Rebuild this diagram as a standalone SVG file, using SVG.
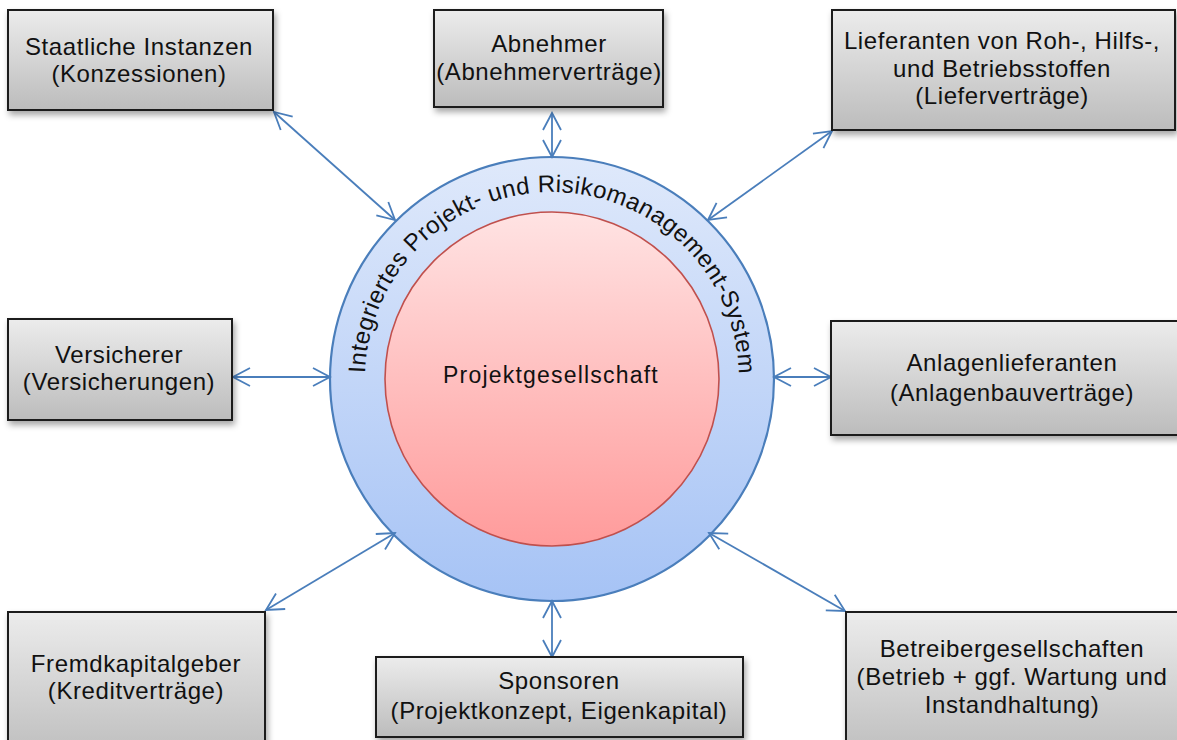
<svg xmlns="http://www.w3.org/2000/svg" width="1177" height="740" viewBox="0 0 1177 740">
<style>
.box{fill:url(#gBox);stroke:#1a1a1a;stroke-width:2;filter:url(#sh)}
.t{font-family:"Liberation Sans",Arial,sans-serif;font-size:24px;fill:#111;text-anchor:middle;letter-spacing:0.6px}
.a{font-family:"Liberation Sans",Arial,sans-serif;font-size:24px;fill:#111;letter-spacing:0.42px}
.c{fill:none;stroke:#4a7ebb;stroke-width:1.8;marker-start:url(#ah);marker-end:url(#ah)}
</style>
<defs>
<linearGradient id="gBox" x1="0" y1="0" x2="0" y2="1"><stop offset="0" stop-color="#ececec"/><stop offset="1" stop-color="#bcbcbc"/></linearGradient>
<linearGradient id="gOut" x1="0" y1="0" x2="0" y2="1"><stop offset="0" stop-color="#dfe9fb"/><stop offset="1" stop-color="#a6c3f5"/></linearGradient>
<linearGradient id="gIn" x1="0" y1="0" x2="0" y2="1"><stop offset="0" stop-color="#ffe3e3"/><stop offset="1" stop-color="#ff9b9b"/></linearGradient>
<filter id="sh" x="-10%" y="-10%" width="130%" height="140%"><feDropShadow dx="2" dy="4" stdDeviation="3" flood-color="#000" flood-opacity="0.35"/></filter>
<marker id="ah" markerWidth="20" markerHeight="20" refX="18" refY="10" orient="auto-start-reverse" markerUnits="userSpaceOnUse" viewBox="0 0 20 20" overflow="visible"><path d="M1,1 L18,10 L1,19" fill="none" stroke="#4a7ebb" stroke-width="1.8"/></marker>
<path id="arc" d="M365,379 A187,187 0 0 1 739,379"/>
</defs>
<rect width="1177" height="740" fill="#fff"/>

<g id="center">
<circle cx="552" cy="379" r="222" fill="url(#gOut)" stroke="#4a7ebb" stroke-width="2.2"/>
<text class="a"><textPath href="#arc" startOffset="5.8">Integriertes</textPath></text>
<text class="a"><textPath href="#arc" startOffset="137.9">Projekt-</textPath></text>
<text class="a"><textPath href="#arc" startOffset="231">und</textPath></text>
<text class="a"><textPath href="#arc" startOffset="279.4">Risikomanagement-</textPath></text>
<text class="a"><textPath href="#arc" startOffset="499.9">System</textPath></text>
<circle cx="552" cy="379" r="167" fill="url(#gIn)" stroke="#c0504d" stroke-width="1.6"/>
<text class="t" x="551" y="383" style="font-size:23px;letter-spacing:1.2px">Projektgesellschaft</text>
</g>

<g id="connectors">
<line class="c" x1="274" y1="112" x2="395" y2="220"/>
<line class="c" x1="552" y1="113" x2="552" y2="157"/>
<line class="c" x1="832" y1="131" x2="708" y2="220"/>
<line class="c" x1="233" y1="377" x2="330" y2="377"/>
<line class="c" x1="774" y1="377" x2="831" y2="377"/>
<line class="c" x1="266" y1="610" x2="395" y2="533"/>
<line class="c" x1="552" y1="601" x2="552" y2="657"/>
<line class="c" x1="845" y1="611" x2="709" y2="533"/>
</g>

<g id="n-staat">
<rect class="box" x="8" y="10" width="265" height="100"/>
<text class="t" x="139" y="55">Staatliche Instanzen</text>
<text class="t" x="139" y="82">(Konzessionen)</text>
</g>
<g id="n-abnehmer">
<rect class="box" x="434" y="10" width="229" height="97"/>
<text class="t" x="549" y="52">Abnehmer</text>
<text class="t" x="549" y="80">(Abnehmerverträge)</text>
</g>
<g id="n-lieferanten">
<rect class="box" x="832" y="10" width="343" height="120"/>
<text class="t" x="1002" y="49">Lieferanten von Roh-, Hilfs-,</text>
<text class="t" x="1002" y="77">und Betriebsstoffen</text>
<text class="t" x="1002" y="104">(Lieferverträge)</text>
</g>
<g id="n-versicherer">
<rect class="box" x="8" y="319" width="224" height="101"/>
<text class="t" x="119" y="363">Versicherer</text>
<text class="t" x="119" y="390">(Versicherungen)</text>
</g>
<g id="n-anlagen">
<rect class="box" x="831" y="321" width="350" height="114"/>
<text class="t" x="1012" y="371">Anlagenlieferanten</text>
<text class="t" x="1012" y="401">(Anlagenbauverträge)</text>
</g>
<g id="n-fremdkapital">
<rect class="box" x="8" y="612" width="257" height="150"/>
<text class="t" x="136" y="672">Fremdkapitalgeber</text>
<text class="t" x="136" y="699">(Kreditverträge)</text>
</g>
<g id="n-sponsoren">
<rect class="box" x="376" y="657" width="367" height="80"/>
<text class="t" x="559" y="689">Sponsoren</text>
<text class="t" x="559" y="719">(Projektkonzept, Eigenkapital)</text>
</g>
<g id="n-betreiber">
<rect class="box" x="846" y="612" width="340" height="150"/>
<text class="t" x="1012" y="657">Betreibergesellschaften</text>
<text class="t" x="1012" y="685">(Betrieb + ggf. Wartung und</text>
<text class="t" x="1012" y="713">Instandhaltung)</text>
</g>
</svg>
